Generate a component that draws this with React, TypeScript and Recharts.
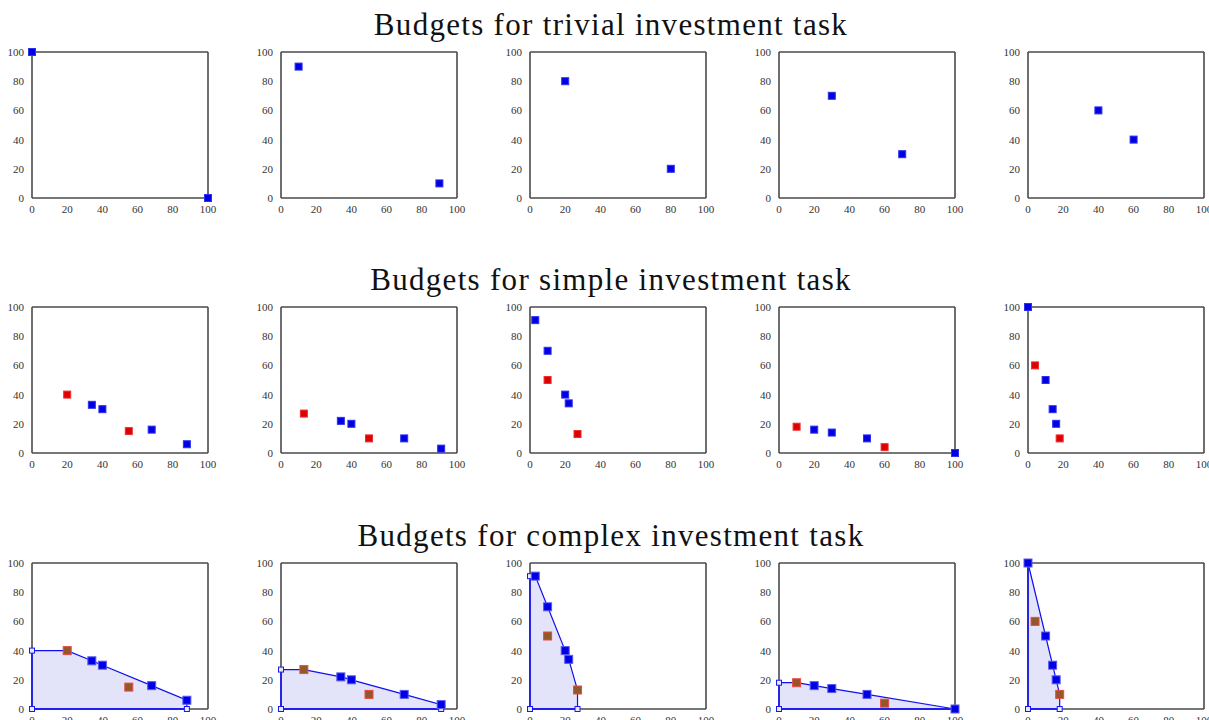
import React from 'react';
import { ComposedChart, Area, Scatter, XAxis, YAxis } from 'recharts';

type Pt = { x: number; y: number };

const ticks = [0, 20, 40, 60, 80, 100];
const colLefts = [32, 281, 530, 779, 1028];
const rowTops = [52, 307, 563];
const rowTitles = [
  'Budgets for trivial investment task',
  'Budgets for simple investment task',
  'Budgets for complex investment task',
];

// trivial task: two budgets per panel
const trivialBlue: Pt[][] = [
  [{ x: 0, y: 100 }, { x: 100, y: 0 }],
  [{ x: 10, y: 90 }, { x: 90, y: 10 }],
  [{ x: 20, y: 80 }, { x: 80, y: 20 }],
  [{ x: 30, y: 70 }, { x: 70, y: 30 }],
  [{ x: 40, y: 60 }, { x: 60, y: 40 }],
];

// simple / complex task budgets
const simpleBlue: Pt[][] = [
  [{ x: 34, y: 33 }, { x: 40, y: 30 }, { x: 68, y: 16 }, { x: 88, y: 6 }],
  [{ x: 34, y: 22 }, { x: 40, y: 20 }, { x: 70, y: 10 }, { x: 91, y: 3 }],
  [{ x: 3, y: 91 }, { x: 10, y: 70 }, { x: 20, y: 40 }, { x: 22, y: 34 }],
  [{ x: 20, y: 16 }, { x: 30, y: 14 }, { x: 50, y: 10 }, { x: 100, y: 0 }],
  [{ x: 0, y: 100 }, { x: 10, y: 50 }, { x: 14, y: 30 }, { x: 16, y: 20 }],
];
const simpleRed: Pt[][] = [
  [{ x: 20, y: 40 }, { x: 55, y: 15 }],
  [{ x: 13, y: 27 }, { x: 50, y: 10 }],
  [{ x: 10, y: 50 }, { x: 27, y: 13 }],
  [{ x: 10, y: 18 }, { x: 60, y: 4 }],
  [{ x: 4, y: 60 }, { x: 18, y: 10 }],
];

// upper edge of the complex-task budget set
const complexFrontier: Pt[][] = [
  [{ x: 0, y: 40 }, { x: 20, y: 40 }, { x: 34, y: 33 }, { x: 40, y: 30 }, { x: 68, y: 16 }, { x: 88, y: 6 }, { x: 88, y: 0 }],
  [{ x: 0, y: 27 }, { x: 13, y: 27 }, { x: 34, y: 22 }, { x: 40, y: 20 }, { x: 70, y: 10 }, { x: 91, y: 3 }, { x: 91, y: 0 }],
  [{ x: 0, y: 91 }, { x: 3, y: 91 }, { x: 10, y: 70 }, { x: 20, y: 40 }, { x: 22, y: 34 }, { x: 27, y: 13 }, { x: 27, y: 0 }],
  [{ x: 0, y: 18 }, { x: 10, y: 18 }, { x: 20, y: 16 }, { x: 30, y: 14 }, { x: 50, y: 10 }, { x: 100, y: 0 }],
  [{ x: 0, y: 100 }, { x: 10, y: 50 }, { x: 14, y: 30 }, { x: 16, y: 20 }, { x: 18, y: 10 }, { x: 18, y: 0 }],
];
// open-square corners of the budget set
const complexCorners: Pt[][] = [
  [{ x: 0, y: 40 }, { x: 0, y: 0 }, { x: 88, y: 0 }],
  [{ x: 0, y: 27 }, { x: 0, y: 0 }, { x: 91, y: 0 }],
  [{ x: 0, y: 91 }, { x: 0, y: 0 }, { x: 27, y: 0 }],
  [{ x: 0, y: 18 }, { x: 0, y: 0 }, { x: 100, y: 0 }],
  [{ x: 0, y: 100 }, { x: 0, y: 0 }, { x: 18, y: 0 }],
];

const FONT = '"Liberation Serif", "DejaVu Serif", serif';
const AXIS = '#4a4a4a';
const tickStyle = { fontSize: 11, fill: '#333', fontFamily: FONT };

const square = (fill: string, stroke: string, size = 7) => (props: any) => {
  const { cx, cy } = props;
  if (cx == null || cy == null) return <g />;
  return (
    <rect
      x={cx - size / 2}
      y={cy - size / 2}
      width={size}
      height={size}
      fill={fill}
      stroke={stroke}
      strokeWidth={1}
    />
  );
};

interface PanelProps {
  left: number;
  top: number;
  blue: Pt[];
  red?: Pt[];
  frontier?: Pt[];
  corners?: Pt[];
}

const Panel: React.FC<PanelProps> = ({ left, top, blue, red, frontier, corners }) => {
  const complex = !!frontier;
  return (
    <div style={{ position: 'absolute', left: left - 30, top: top - 6 }}>
      <ComposedChart
        width={218}
        height={168}
        data={frontier ?? blue}
        margin={{ top: 5, right: 11, bottom: 0, left: 0 }}
      >
        {/* inward tick marks on all four sides */}
        <XAxis xAxisId="bt" orientation="bottom" mirror type="number" dataKey="x" domain={[0, 100]} ticks={ticks} tick={false} axisLine={false} height={1} tickSize={3} stroke={AXIS} />
        <XAxis xAxisId="x" orientation="bottom" type="number" dataKey="x" domain={[0, 100]} ticks={ticks} tickLine={false} tickMargin={1} height={16} tick={tickStyle} axisLine={{ stroke: AXIS, strokeWidth: 1.6 }} />
        <XAxis xAxisId="t" orientation="top" type="number" dataKey="x" domain={[0, 100]} ticks={ticks} tick={false} height={1} tickSize={-3} stroke={AXIS} axisLine={{ stroke: AXIS, strokeWidth: 1.6 }} />
        <YAxis yAxisId="lt" orientation="left" mirror type="number" dataKey="y" domain={[0, 100]} ticks={ticks} tick={false} axisLine={false} width={1} tickSize={3} stroke={AXIS} />
        <YAxis yAxisId="y" orientation="left" type="number" dataKey="y" domain={[0, 100]} ticks={ticks} tickLine={false} tickMargin={2} width={30} tick={tickStyle} axisLine={{ stroke: AXIS, strokeWidth: 1.6 }} />
        <YAxis yAxisId="r" orientation="right" type="number" dataKey="y" domain={[0, 100]} ticks={ticks} tick={false} width={1} tickSize={-3} stroke={AXIS} axisLine={{ stroke: AXIS, strokeWidth: 1.6 }} />

        {complex && (
          <Area
            xAxisId="x"
            yAxisId="y"
            type="linear"
            dataKey="y"
            stroke="#1010f0"
            strokeWidth={1.2}
            fill="#e3e3fa"
            fillOpacity={1}
            dot={false}
            activeDot={false}
            isAnimationActive={false}
          />
        )}
        {complex && corners && (
          <Scatter
            xAxisId="x"
            yAxisId="y"
            data={corners}
            dataKey="y"
            line={{ stroke: '#2020ee', strokeWidth: 1.8 }}
            lineType="joint"
            shape={square('#e8e8fc', '#1a1aee', 5)}
            isAnimationActive={false}
          />
        )}
        <Scatter
          xAxisId="x"
          yAxisId="y"
          data={blue}
          dataKey="y"
          shape={complex ? square('#0000e6', '#5a5af0', 8) : square('#0000e6', '#3030ea', 7)}
          isAnimationActive={false}
        />
        {red && (
          <Scatter
            xAxisId="x"
            yAxisId="y"
            data={red}
            dataKey="y"
            shape={complex ? square('#8e5a2a', '#f04848', 8) : square('#e00000', '#ea3030', 7)}
            isAnimationActive={false}
          />
        )}
      </ComposedChart>
    </div>
  );
};

export default function App() {
  return (
    <div
      style={{
        position: 'absolute',
        left: 0,
        top: 0,
        width: 1209,
        height: 720,
        background: '#fff',
        overflow: 'hidden',
      }}
    >
      {rowTitles.map((t, r) => (
        <div
          key={t}
          style={{
            position: 'absolute',
            left: 0,
            width: 1222,
            top: rowTops[r] - 43,
            textAlign: 'center',
            fontFamily: FONT,
            fontSize: 31,
            letterSpacing: 1.3,
            lineHeight: '32px',
            color: '#111',
          }}
        >
          {t}
        </div>
      ))}
      {colLefts.map((x, c) => (
        <Panel key={`t${c}`} left={x} top={rowTops[0]} blue={trivialBlue[c]} />
      ))}
      {colLefts.map((x, c) => (
        <Panel key={`s${c}`} left={x} top={rowTops[1]} blue={simpleBlue[c]} red={simpleRed[c]} />
      ))}
      {colLefts.map((x, c) => (
        <Panel
          key={`c${c}`}
          left={x}
          top={rowTops[2]}
          blue={simpleBlue[c]}
          red={simpleRed[c]}
          frontier={complexFrontier[c]}
          corners={complexCorners[c]}
        />
      ))}
    </div>
  );
}
